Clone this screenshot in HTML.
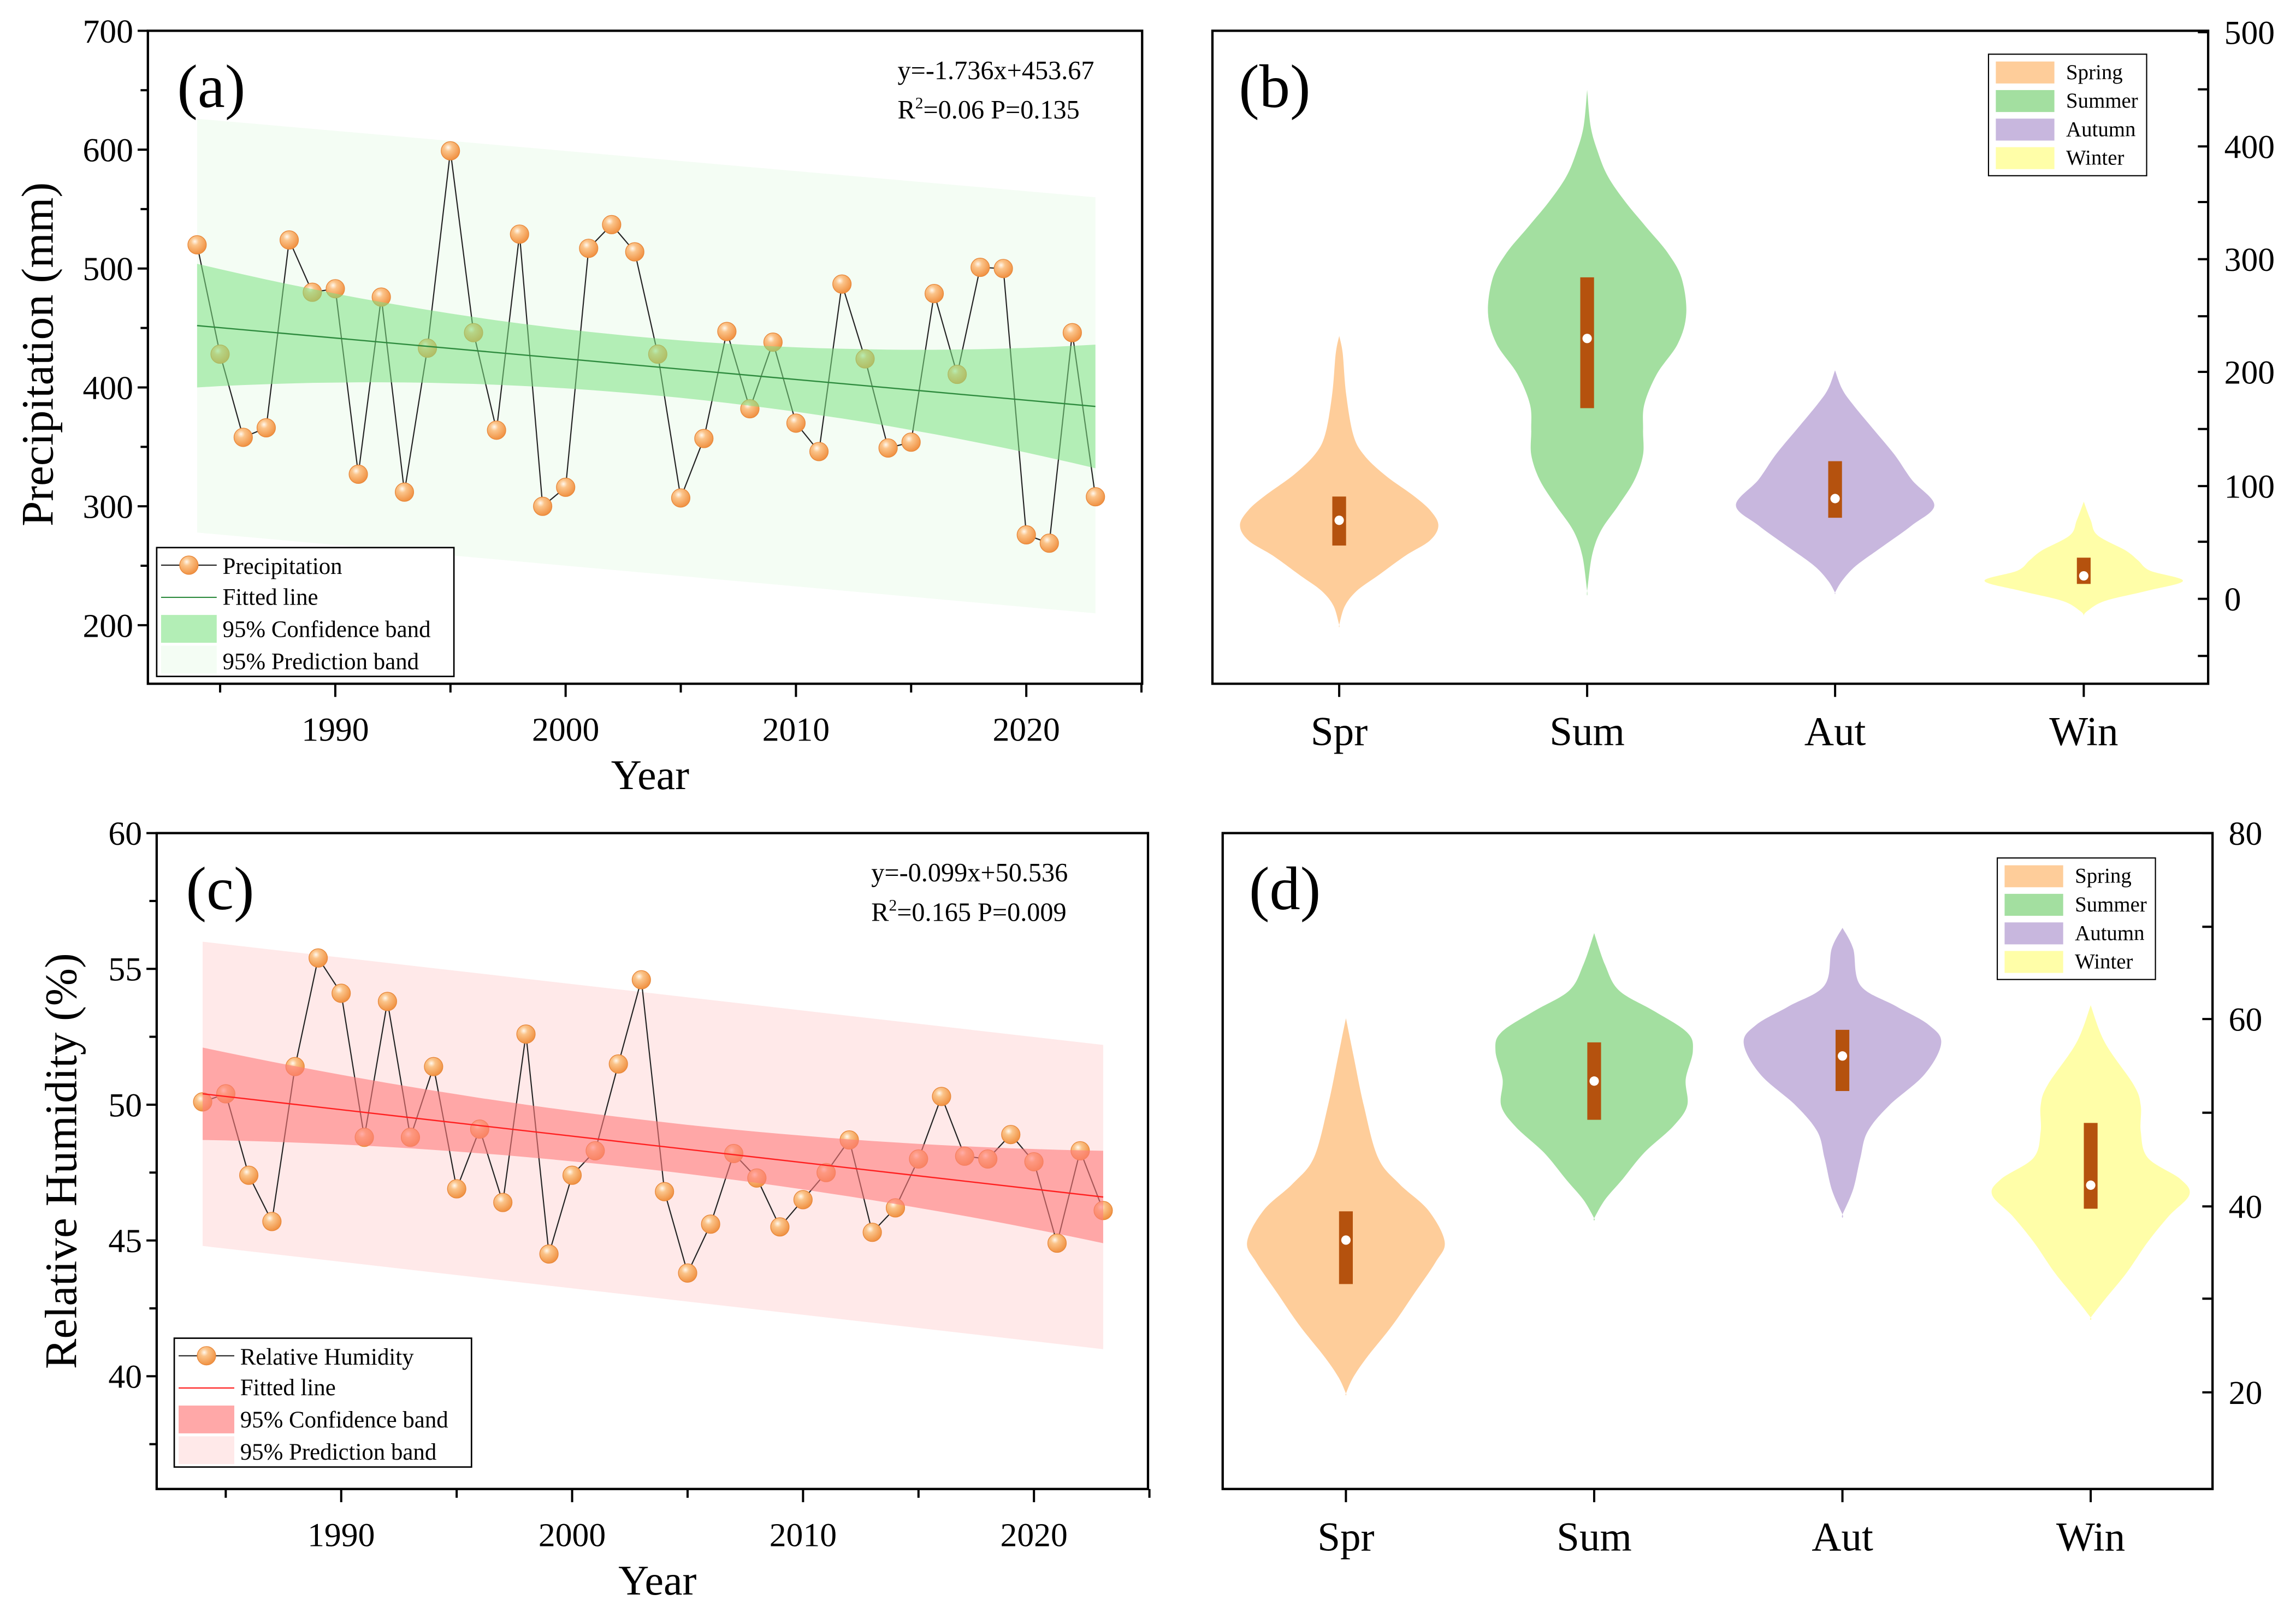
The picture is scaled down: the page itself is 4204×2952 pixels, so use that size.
<!DOCTYPE html>
<html><head><meta charset="utf-8">
<style>
html,body{margin:0;padding:0;background:#fff;}
svg{display:block;font-family:"Liberation Serif",serif;}
</style></head>
<body>
<svg id="s" xmlns="http://www.w3.org/2000/svg" width="4204" height="2952" viewBox="0 0 1568 1101">
<defs>
<radialGradient id="gO" cx="0.38" cy="0.32" r="0.7">
<stop offset="0" stop-color="#fff8ee"/><stop offset="0.3" stop-color="#fbc48a"/><stop offset="1" stop-color="#f09040"/>
</radialGradient>
</defs>
<rect width="1568" height="1101" fill="#fff"/>
<g id="g"></g>
</svg>
<script>
var out=[];
function P(s){out.push(s);}
function T(x,y,t,sz,anc,extra){P('<text x="'+x+'" y="'+y+'" font-size="'+sz+'" text-anchor="'+(anc||'start')+'" '+(extra||'')+'>'+t+'</text>');}
function poly(pts){return pts.map(function(p){return p[0].toFixed(1)+','+p[1].toFixed(1)}).join(' ');}

function linePanel(o){
  var yr=function(y){return o.x0+(y-1984)*o.dx;};
  var yv=function(v){return o.ytop+(o.vtop-v)*o.sy;};
  var x1=yr(1984),x2=yr(2023);
  P('<polygon fill="'+o.predC+'" points="'+poly([[x1,yv(o.pred[0][1])],[x2,yv(o.pred[1][1])],[x2,yv(o.pred[1][0])],[x1,yv(o.pred[0][0])]])+'"/>');
  var pts=o.data.map(function(v,i){return [yr(1984+i),yv(v)];});
  P('<polyline fill="none" stroke="#222" stroke-width="0.8" points="'+poly(pts)+'"/>');
  pts.forEach(function(p){P('<circle cx="'+p[0].toFixed(1)+'" cy="'+p[1].toFixed(1)+'" r="6.3" fill="url(#gO)" stroke="#e8883a" stroke-width="0.5"/>');});
  var up=[],lo=[];
  for(var k=0;k<=39;k++){var yy=1984+k;var t=(yy-2003.5)/19.5;var m=o.fit[0]+(o.fit[1]-o.fit[0])*k/39;
    var hw=o.cmin+(o.cmax-o.cmin)*t*t;up.push([yr(yy),yv(m+hw)]);lo.push([yr(yy),yv(m-hw)]);}
  P('<polygon fill="'+o.confC+'" fill-opacity="'+o.confA+'" points="'+poly(up.concat(lo.reverse()))+'"/>');
  P('<line x1="'+x1+'" y1="'+yv(o.fit[0])+'" x2="'+x2+'" y2="'+yv(o.fit[1])+'" stroke="'+o.fitC+'" stroke-width="0.9"/>');
  P('<rect x="'+o.L+'" y="'+o.ytop+'" width="'+(o.R-o.L)+'" height="'+(o.B-o.ytop)+'" fill="none" stroke="#000" stroke-width="1.6"/>');
  var nmax=Math.round((o.vtop-o.vmin)/o.minor);
  for(var i=0;i<=nmax;i++){var v=o.vmin+i*o.minor;var y=yv(v);if(y>o.B+0.5)continue;
    var r=v/o.major;var maj=Math.abs(r-Math.round(r))<0.01;
    P('<line x1="'+(o.L-(maj?7:5))+'" y1="'+y+'" x2="'+o.L+'" y2="'+y+'" stroke="#000" stroke-width="1.5"/>');
    if(maj&&v>=o.lmin)T(o.L-10,y+8,String(Math.round(v)),23,'end');}
  for(var yy=1985;yy<=2025;yy+=5){var x=yr(yy);var maj=yy%10==0;
    P('<line x1="'+x+'" y1="'+o.B+'" x2="'+x+'" y2="'+(o.B+(maj?9:6))+'" stroke="#000" stroke-width="1.5"/>');
    if(maj)T(x,o.B+39,String(yy),23,'middle');}
  T(o.ttlX,o.B+72,'Year',29,'middle');
  P('<text x="0" y="0" font-size="31" text-anchor="middle" transform="translate('+o.ylabX+','+o.ylabY+') rotate(-90)">'+o.ylab+'</text>');
  T(o.L+20,o.ytop+52,o.tag,42);
  T(o.eqX,o.ytop+33,o.eq1,18);
  P('<text x="'+o.eqX+'" y="'+(o.ytop+60)+'" font-size="18">R<tspan font-size="11" dy="-7">2</tspan><tspan dy="7">'+o.eq2+'</tspan></text>');
  var lx=o.lg[0],ly=o.lg[1];
  P('<rect x="'+lx+'" y="'+ly+'" width="203" height="88" fill="#fff" stroke="#000" stroke-width="1"/>');
  P('<line x1="'+(lx+3)+'" y1="'+(ly+12)+'" x2="'+(lx+41)+'" y2="'+(ly+12)+'" stroke="#222" stroke-width="0.8"/>');
  P('<circle cx="'+(lx+22)+'" cy="'+(ly+12)+'" r="6.3" fill="url(#gO)" stroke="#e8883a" stroke-width="0.5"/>');
  T(lx+45,ly+18,o.lname,16);
  P('<line x1="'+(lx+3)+'" y1="'+(ly+34)+'" x2="'+(lx+41)+'" y2="'+(ly+34)+'" stroke="'+o.fitC+'" stroke-width="0.8"/>');
  T(lx+45,ly+39,'Fitted line',16);
  P('<rect x="'+(lx+3)+'" y="'+(ly+46)+'" width="38" height="19" fill="'+o.confLeg+'"/>');
  T(lx+45,ly+61,'95% Confidence band',16);
  P('<rect x="'+(lx+3)+'" y="'+(ly+67)+'" width="38" height="19" fill="'+o.predC+'"/>');
  T(lx+45,ly+83,'95% Prediction band',16);
}

linePanel({x0:134.6,dx:15.73,ytop:21,vtop:700,sy:0.812,L:101,R:780,B:467,vmin:150,lmin:200,minor:50,major:100,
 data:[520,428,358,366,524,480,483,327,476,312,433,599,446,364,529,300,316,517,537,514,428,307,357,447,382,438,370,346,487,424,349,354,479,411,501,500,276,269,446,308],
 pred:[[278,626],[210,560]],fit:[452,384],cmin:24,cmax:52,predC:'#f4fdf4',confC:'#7de183',confA:0.55,confLeg:'#b3eeb6',fitC:'#2e8b3e',
 ttlX:444,ylabX:36,ylabY:242,ylab:'Precipitation (mm)',tag:'(a)',eqX:613,eq1:'y=-1.736x+453.67',eq2:'=0.06 P=0.135',lg:[107,374],lname:'Precipitation'});
linePanel({x0:138.4,dx:15.77,ytop:569,vtop:60,sy:18.55,L:107,R:784,B:1017,vmin:37.5,lmin:40,minor:2.5,major:5,
 data:[50.1,50.4,47.4,45.7,51.4,55.4,54.1,48.8,53.8,48.8,51.4,46.9,49.1,46.4,52.6,44.5,47.4,48.3,51.5,54.6,46.8,43.8,45.6,48.2,47.3,45.5,46.5,47.5,48.7,45.3,46.2,48.0,50.3,48.1,48.0,48.9,47.9,44.9,48.3,46.1],
 pred:[[44.8,56.0],[41.0,52.2]],fit:[50.4,46.6],cmin:0.9,cmax:1.7,predC:'#ffe9e9',confC:'#ff7c7c',confA:0.6,confLeg:'#ffa8a8',fitC:'#ff2020',
 ttlX:449,ylabX:52,ylabY:793,ylab:'Relative Humidity (%)',tag:'(c)',eqX:595,eq1:'y=-0.099x+50.536',eq2:'=0.165 P=0.009',lg:[119,914],lname:'Relative Humidity'});

function violin(cx,prof,fx,fy,ox,oy,col){
  var R=prof.map(function(p){return [ox+(cx+p[1])*fx, oy+p[0]*fy];});
  var L=prof.map(function(p){return [ox+(cx-p[1])*fx, oy+p[0]*fy];}).reverse();
  var pts=R.concat(L);
  var d='M'+pts[0][0].toFixed(1)+','+pts[0][1].toFixed(1);
  var n=pts.length;
  for(var i=0;i<n-1;i++){var p0=pts[Math.max(i-1,0)],p1=pts[i],p2=pts[i+1],p3=pts[Math.min(i+2,n-1)];
    var c1=[p1[0]+(p2[0]-p0[0])/6,p1[1]+(p2[1]-p0[1])/6],c2=[p2[0]-(p3[0]-p1[0])/6,p2[1]-(p3[1]-p1[1])/6];
    d+='C'+c1[0].toFixed(1)+','+c1[1].toFixed(1)+' '+c2[0].toFixed(1)+','+c2[1].toFixed(1)+' '+p2[0].toFixed(1)+','+p2[1].toFixed(1);}
  P('<path d="'+d+'Z" fill="'+col+'"/>');
}
function box(cx,a,b,m,fx,fy,ox,oy){
  var x=ox+cx*fx;
  P('<rect x="'+(x-4.7)+'" y="'+(oy+a*fy)+'" width="9.4" height="'+((b-a)*fy)+'" fill="#b5520e"/>');
  P('<circle cx="'+x+'" cy="'+(oy+m*fy)+'" r="3.2" fill="#fff"/>');
}
var cols=['#fecd9a','#a3dfa0','#c8b7de','#fffea8'];
function vpanel(o){
  var fx=o.fx,fy=o.fy,ox=o.ox,oy=o.oy;
  o.v.forEach(function(v,i){violin(v[0],v[1],fx,fy,ox,oy,cols[i]);box(v[0],v[2],v[3],v[4],fx,fy,ox,oy);});
  P('<rect x="'+o.L+'" y="'+o.T+'" width="'+(o.R-o.L)+'" height="'+(o.B-o.T)+'" fill="none" stroke="#000" stroke-width="1.6"/>');
  o.ticks.forEach(function(t){var y=t[0];P('<line x1="'+(o.R-7)+'" y1="'+y+'" x2="'+o.R+'" y2="'+y+'" stroke="#000" stroke-width="1.5"/>');
    if(t[1]!==null)T(o.R+11,y+8,t[1],23,'start');});
  var names=['Spr','Sum','Aut','Win'];
  o.v.forEach(function(v,i){var x=ox+v[0]*fx;P('<line x1="'+x+'" y1="'+o.B+'" x2="'+x+'" y2="'+(o.B+9)+'" stroke="#000" stroke-width="1.5"/>');T(x,o.B+42,names[i],28,'middle');});
  T(o.L+18,o.T+52,o.tag,42);
  var lx=o.lg[0],ly=o.lg[1];
  P('<rect x="'+lx+'" y="'+ly+'" width="108" height="83" fill="#fff" stroke="#000" stroke-width="0.8"/>');
  ['Spring','Summer','Autumn','Winter'].forEach(function(nm,i){
    P('<rect x="'+(lx+5)+'" y="'+(ly+5+i*19.5)+'" width="40" height="15" fill="'+cols[i]+'"/>');
    T(lx+53,ly+17+i*19.5,nm,14.5);});
}
vpanel({fx:0.477,fy:0.345,ox:820.6,oy:0,L:828,R:1508,T:21,B:467,tag:'(b)',lg:[1358,37],
 ticks:[[22,'500'],[61,null],[100,'400'],[138,null],[177,'300'],[216,null],[254,'200'],[293,null],[332,'100'],[370,null],[409,'0'],[448,null]],
 v:[[197,[[665,0],[700,5],[780,10],[860,20],[900,35],[940,65],[980,105],[1010,130],[1040,142],[1070,130],[1100,95],[1140,55],[1170,25],[1200,8],[1237,0]],983,1080,1030],
    [552,[[178,0],[250,5],[300,15],[350,30],[400,55],[450,85],[500,115],[550,135],[620,142],[680,130],[740,100],[800,82],[850,80],[900,80],[950,68],[1000,45],[1050,20],[1100,7],[1170,0]],549,808,670],
    [907,[[733,0],[770,10],[800,25],[850,55],[900,85],[950,110],[1000,142],[1040,110],[1080,70],[1120,30],[1150,10],[1173,0]],913,1025,987],
    [1263,[[993,0],[1030,10],[1060,20],[1090,60],[1110,78],[1130,95],[1150,142],[1170,90],[1190,30],[1210,5],[1218,0]],1104,1156,1140]]});
vpanel({fx:0.4886,fy:0.3573,ox:801.9,oy:540.8,L:835,R:1511,T:569,B:1017,tag:'(d)',lg:[1364,586],
 ticks:[[569,'80'],[633,null],[696,'60'],[760,null],[824,'40'],[887,null],[951,'20']],
 v:[[240,[[433,0],[500,10],[600,25],[700,45],[750,75],[800,115],[860,138],[900,125],[960,95],[1020,65],[1080,30],[1120,10],[1150,0]],802,941,857],
    [587,[[270,0],[330,15],[380,35],[420,85],[460,130],[495,138],[550,128],[600,130],[640,110],[690,70],[740,40],[780,15],[815,0]],479,627,553],
    [934,[[260,0],[300,15],[370,25],[410,75],[445,120],[480,138],[540,115],[600,65],[650,35],[700,25],[760,15],[808,0]],455,572,505],
    [1281,[[408,0],[480,20],[560,60],[600,70],[650,70],[700,80],[740,125],[770,138],[810,110],[860,80],[920,50],[970,20],[1005,0]],633,797,752]]});
document.getElementById('g').innerHTML=out.join('');
</script>
</body></html>
